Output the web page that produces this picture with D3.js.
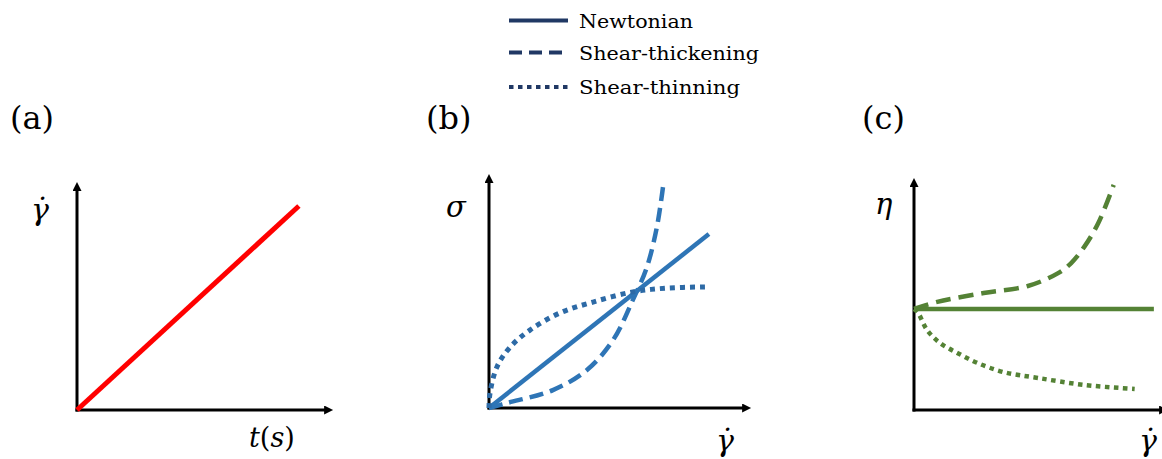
<!DOCTYPE html>
<html>
<head>
<meta charset="utf-8">
<script src="https://cdn.jsdelivr.net/npm/d3@7"></script>
<style>
  html, body { margin: 0; padding: 0; background: #fff; }
  svg { display: block; }
  text { font-family: "DejaVu Serif", serif; fill: #000; }
</style>
</head>
<body>
<svg id="chart" width="1162" height="459"></svg>
<script>
// ---- data (arbitrary units, 0..100 on each axis) ----
const legendNames = ["Newtonian", "Shear-thickening", "Shear-thinning"];
const panelLabels = ["(a)", "(b)", "(c)"];

// (a) shear rate ramps linearly with time
const rampX = [0, 86];
const rampY = [0, 88.7];

// (b) stress vs. shear rate
const stressNewtonX = [0, 83.3];
const stressNewtonY = [0, 73.7];
const stressThickX = [0, 6.8, 24.2, 37.1, 47, 54.5, 59.8, 63.6, 65.9];
const stressThickY = [0, 2.1, 7.6, 16.1, 28.8, 45.8, 59.7, 76.7, 93.6];
const stressThinX = [0, 0.4, 3, 8, 15.5, 26.9, 39.4, 54.5, 67.4, 81.8];
const stressThinY = [0, 6.4, 17.4, 25.8, 33, 40.3, 44.9, 49.2, 50.8, 51.3];

// (c) viscosity vs. shear rate
const viscNewtonX = [0, 93.7];
const viscNewtonY = [43.2, 43.2];
const viscThickX = [0, 9.1, 27.2, 44.5, 56.3, 61.4, 66.5, 72, 78];
const viscThickY = [43.2, 46.2, 50, 53, 58.5, 62.8, 69.7, 79.9, 96.2];
const viscThinX = [0, 1.6, 5.1, 10.2, 16.9, 24.8, 35, 48.4, 66.5, 86.2];
const viscThinY = [43.2, 41.5, 34.2, 28.6, 24.4, 20.1, 16.2, 13.7, 10.7, 9];

const zip = (xs, ys) => xs.map((x, i) => ({x, y: ys[i]}));

const svg = d3.select("#chart");

// arrow marker for axes
svg.append("defs").append("marker")
  .attr("id", "arrow")
  .attr("viewBox", "0 0 10 10")
  .attr("refX", 1).attr("refY", 5)
  .attr("markerWidth", 10).attr("markerHeight", 9)
  .attr("markerUnits", "userSpaceOnUse")
  .attr("orient", "auto")
  .append("path").attr("d", "M0,0 L10,5 L0,10 Z").attr("fill", "#000");

const panels = [
  {ox: 77,  oy: 410, xTip: 335,  yTip: 180},
  {ox: 489, oy: 408, xTip: 753,  yTip: 172},
  {ox: 914, oy: 410, xTip: 1170, yTip: 176}
];

panels.forEach(p => {
  p.x = d3.scaleLinear().domain([0, 100]).range([p.ox, p.xTip]);
  p.y = d3.scaleLinear().domain([0, 100]).range([p.oy, p.yTip]);
  const g = svg.append("g");
  // axes drawn from the scales' own ranges, arrowheads at the far ends
  g.append("line")
    .attr("x1", p.x(0) - 1.5).attr("y1", p.y(0))
    .attr("x2", p.x(100) - 10).attr("y2", p.y(0))
    .attr("stroke", "#000").attr("stroke-width", 3)
    .attr("marker-end", "url(#arrow)");
  g.append("line")
    .attr("x1", p.x(0)).attr("y1", p.y(0) + 1.5)
    .attr("x2", p.x(0)).attr("y2", p.y(100) + 10)
    .attr("stroke", "#000").attr("stroke-width", 3)
    .attr("marker-end", "url(#arrow)");
  p.g = g;
});

function drawCurve(p, pts, color, width, dash, curve) {
  const line = d3.line()
    .x(d => p.x(d.x)).y(d => p.y(d.y))
    .curve(curve || d3.curveCatmullRom.alpha(0.5));
  p.g.append("path")
    .attr("d", line(pts))
    .attr("fill", "none")
    .attr("stroke", color)
    .attr("stroke-width", width)
    .attr("stroke-dasharray", dash || null)
    .attr("stroke-linecap", "butt");
}

const blue = "#2E75B6";
const blueDark = "#2D6AA6";
const green = "#548235";

// (a)
drawCurve(panels[0], zip(rampX, rampY), "#FF0000", 5, null, d3.curveLinear);

// (b)
drawCurve(panels[1], zip(stressNewtonX, stressNewtonY), blue, 4.5, null, d3.curveLinear);
drawCurve(panels[1], zip(stressThickX, stressThickY), blue, 4.5, "14 7");
drawCurve(panels[1], zip(stressThinX, stressThinY), blueDark, 5, "5 5");

// (c)
drawCurve(panels[2], zip(viscNewtonX, viscNewtonY), green, 4.5, null, d3.curveLinear);
drawCurve(panels[2], zip(viscThickX, viscThickY), green, 4.5, "15 8");
drawCurve(panels[2], zip(viscThinX, viscThinY), green, 4.5, "4.5 4.5");

// panel labels
const labelX = [10, 426, 862];
panelLabels.forEach((t, i) => {
  svg.append("text").attr("x", labelX[i]).attr("y", 129)
    .attr("font-size", 32).text(t);
});

// axis titles
function mathLabel(x, y, parts, size) {
  const t = svg.append("text").attr("x", x).attr("y", y).attr("font-size", size);
  parts.forEach(([s, italic]) => {
    t.append("tspan").attr("font-style", italic ? "italic" : "normal").text(s);
  });
  return t;
}
const gammaDot = "\u03B3\u0307";
mathLabel(31, 220, [[gammaDot, true]], 30);
mathLabel(249, 447, [["t", true], ["(", false], ["s", true], [")", false]], 27);
mathLabel(446, 217, [["\u03C3", true]], 29);
mathLabel(716, 451, [[gammaDot, true]], 30);
mathLabel(875, 214, [["\u03B7", true]], 29);
mathLabel(1139, 451, [[gammaDot, true]], 30);

// legend
const legendColor = "#203864";
const legendDash = [null, "13 7", "4.5 4.5"];
const legendY = [20.5, 52.5, 87];
const legendWidth = [114, 180, 161];
legendNames.forEach((name, i) => {
  svg.append("line")
    .attr("x1", 509).attr("x2", 568)
    .attr("y1", legendY[i]).attr("y2", legendY[i])
    .attr("stroke", legendColor).attr("stroke-width", 4)
    .attr("stroke-dasharray", legendDash[i]);
  svg.append("text")
    .attr("x", 579).attr("y", legendY[i] + 7)
    .attr("font-size", 18)
    .attr("textLength", legendWidth[i])
    .attr("lengthAdjust", "spacingAndGlyphs")
    .text(name);
});
</script>
</body>
</html>
